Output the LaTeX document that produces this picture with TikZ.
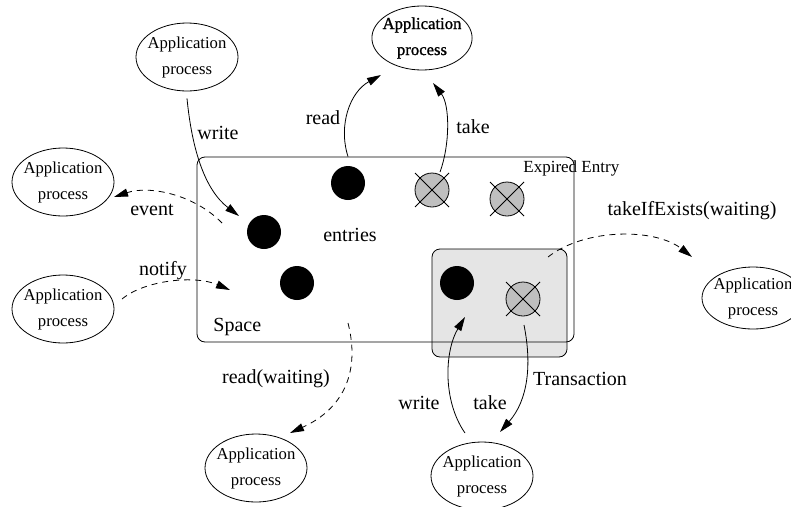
\documentclass[tikz,border=0pt]{standalone}
\usepackage{fontspec}
\setmainfont{Liberation Serif}
\newfontfamily\heavyfont[FakeBold=1.2]{Liberation Serif}
\usetikzlibrary{arrows.meta}
\usetikzlibrary{shapes.geometric}

\begin{document}
\begin{tikzpicture}
[
	x = 1pt, y = -1pt,
	line width = 0.8pt,
	proc/.style	= {ellipse, draw, inner xsep = -4pt, inner ysep = 0pt, minimum width = 102pt, minimum height = 68pt, align = center, font = \fontsize{16.7}{26}\selectfont},
	entry/.style	= {circle, fill = black, minimum size = 34pt, inner sep = 0pt},
	expired/.style	= {entry, draw = black, fill = black!25},
	area/.style	= {draw, rounded corners = 8pt, inner sep = 0pt},
	comment/.style	= {font = \fontsize{20}{24}\selectfont, inner sep = 0pt},
	flow/.style	= {-{Triangle[length = 14pt, width = 8pt]}},
	wait/.style	= {flow, dash pattern = on 6pt off 5pt},
]
	\useasboundingbox (0, 0) rectangle (791, 506);

	% the two boxes
	\node (trans) [area, fill = black!10, minimum width = 135pt, minimum height = 108pt] at (499.5, 303) {};
	\node (space) [area, minimum width = 377pt, minimum height = 185pt] at (385.5, 249.5) {};
	%
	\node (e1) [entry] at (348, 183) {};
	\node (e2) [entry] at (264, 232) {};
	\node (e3) [entry] at (297, 283) {};
	\node (e4) [entry] at (457, 283) {};
	\node (x1) [expired] at (432, 190) {};
	\node (x2) [expired] at (507, 199) {};
	\node (x3) [expired] at (523, 299) {};
	\foreach \n in {x1, x2, x3}
		\draw (\n.center) ++(-17, -17) -- ++(34, 34) ++(0, -34) -- ++(-34, 34);
	%
	\node (entries) [comment] at (350, 235) {entries};
	\node (spacename) [comment, anchor = west] at (213, 327) {Space};
	\node (expiredname) [comment, font = \fontsize{17}{20}\selectfont, anchor = west] at (523, 168) {Expired Entry};

	% application processes
	\node (appWrite) [proc] at (187, 57) {Application\\process};
	\node (appRead) [proc, font = \heavyfont\fontsize{16.7}{26}\selectfont, minimum width = 97pt, minimum height = 64pt] at (422, 38) {Application\\process};
	\node (appEvent) [proc] at (63, 182) {Application\\process};
	\node (appNotify) [proc] at (63, 309) {Application\\process};
	\node (appTakeIf) [proc, minimum height = 62pt] at (753, 298) {Application\\process};
	\node (appWaitRead) [proc] at (256, 468) {Application\\process};
	\node (appTrans) [proc] at (482, 476) {Application\\process};

	% free ends
	\coordinate (writeEnd) at (239, 216);
	\coordinate (readEnd) at (381, 75);
	\coordinate (takeStart) at (440, 172);
	\coordinate (takeEnd) at (433, 83);
	\coordinate (eventStart) at (222, 223);
	\coordinate (eventEnd) at (114, 197);
	\coordinate (notifyStart) at (122, 299);
	\coordinate (notifyEnd) at (230, 290);
	\coordinate (waitStart) at (348, 323);
	\coordinate (waitEnd) at (290, 433);
	\coordinate (takeIfStart) at (548, 257);
	\coordinate (takeIfEnd) at (692, 257);
	\coordinate (transWriteStart) at (465, 433);
	\coordinate (transWriteEnd) at (465, 317);
	\coordinate (transTakeStart) at (524, 325);
	\coordinate (transTakeEnd) at (500, 432);

	\draw [flow] ([yshift = -7pt] appWrite.south) .. controls (192, 150) and (205, 190) .. (writeEnd);
	\draw [flow] (e1 |- space.north) .. controls (338, 125) and (350, 92) .. (readEnd);
	\draw [flow] (takeStart) .. controls (450, 145) and (450, 105) .. (takeEnd);
	%
	\draw [wait] (eventStart) .. controls (195, 195) and (150, 185) .. (eventEnd);
	\draw [wait] (notifyStart) .. controls (145, 280) and (195, 275) .. (notifyEnd);
	\draw [wait] (waitStart) .. controls (360, 370) and (345, 408) .. (waitEnd);
	\draw [wait] (takeIfStart) .. controls (585, 228) and (655, 228) .. (takeIfEnd);
	%
	\draw [flow] (transWriteStart) .. controls (442, 400) and (445, 350) .. (transWriteEnd);
	\draw [flow] (transTakeStart) .. controls (532, 365) and (528, 400) .. (transTakeEnd);

	% labels
	\node (writeLabel) [comment] at (218, 133) {write};
	\node (readLabel) [comment] at (323, 118) {read};
	\node (takeLabel) [comment] at (473, 127) {take};
	\node (eventLabel) [comment] at (152, 210) {event};
	\node (notifyLabel) [comment] at (163, 271) {notify};
	\node (waitLabel) [comment] at (276, 379) {read(waiting)};
	\node (takeIfLabel) [comment] at (692, 211) {takeIfExists(waiting)};
	\node (transWriteLabel) [comment] at (419, 403) {write};
	\node (transTakeLabel) [comment] at (490, 403) {take};
	\node (transLabel) [comment] at (580, 379) {Transaction};

\end{tikzpicture}
\end{document}
